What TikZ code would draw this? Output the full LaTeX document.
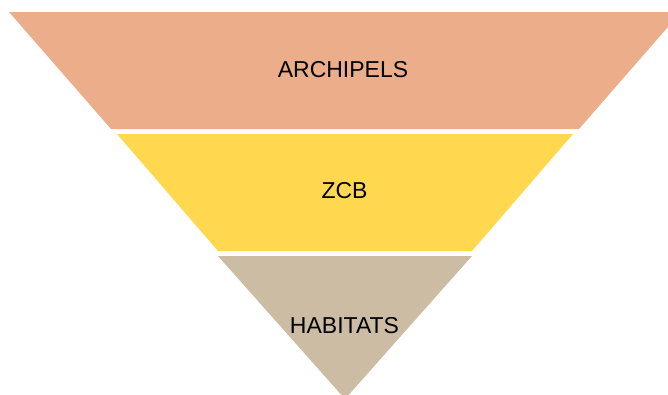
\documentclass[tikz,border=0pt]{standalone}
\usepackage{fontspec}
\setmainfont{Liberation Sans}
\definecolor{archcol}{RGB}{236,173,139}
\definecolor{zcbcol}{RGB}{255,216,80}
\definecolor{habcol}{RGB}{203,188,163}
\tikzset{
  label/.style={inner sep=0pt, font=\fontsize{23}{27}\selectfont}
}
\begin{document}
\begin{tikzpicture}[x=1pt,y=-1pt]
    \useasboundingbox (0,0) rectangle (668,394);
    \clip (0,0) rectangle (668,394);
    \fill[archcol] (9,12) -- (681,12) -- (579,129) -- (111,129) -- cycle;
    \fill[zcbcol] (117,134) -- (573,134) -- (472,251) -- (218,251) -- cycle;
    \fill[habcol] (218,256) -- (472,256) -- (345,399) -- cycle;
    \node[label] (archipels) at (343,70) {ARCHIPELS};
    \node[label] (zcb) at (344.5,190.3) {ZCB};
    \node[label] (habitats) at (344.5,325.5) {HABITATS};
  \end{tikzpicture}
\end{document}
